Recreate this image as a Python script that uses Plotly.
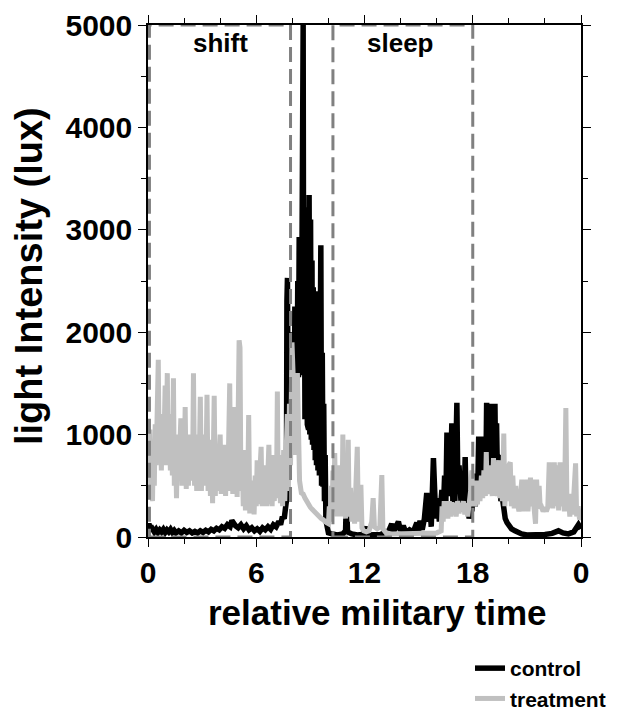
import plotly.graph_objects as go

# ---------------- data ----------------
control_t = [0.00,0.05,0.10,0.15,0.25,0.35,0.45,0.55,0.65,0.75,0.85,0.95,1.05,1.15,1.25,1.35,1.45,1.55,1.70,1.85,
             2.00,2.15,2.30,2.45,2.60,2.75,2.90,3.05,3.20,3.35,3.50,3.65,3.80,3.95,4.10,4.25,4.40,4.55,4.65,4.75,
             4.85,5.00,5.15,5.30,5.45,5.60,5.75,5.90,6.05,6.20,6.35,6.50,6.65,6.80,6.95,7.10,7.25,7.35,7.45,7.55,
             7.62,7.67,7.70,7.73,7.76,7.80,7.84,7.88,7.92,7.97,8.02,8.07,8.11,8.14,8.18,8.22,8.26,8.30,8.34,8.38,
             8.42,8.46,8.50,8.54,8.57,8.60,8.63,8.67,8.70,8.74,8.77,8.79,8.83,8.87,8.90,8.93,8.97,9.01,9.05,9.09,
             9.12,9.16,9.20,9.24,9.27,9.31,9.34,9.38,9.42,9.46,9.50,9.54,9.58,9.62,9.66,9.70,9.74,9.78,9.82,9.86,
             9.92,10.00,10.20,10.50,10.80,10.95,11.00,11.06,11.30,11.60,11.90,12.08,12.15,12.50,12.90,13.20,13.35,13.51,13.60,13.75,
             13.88,14.00,14.15,14.30,14.50,14.70,14.90,15.00,15.08,15.20,15.32,15.45,15.52,15.62,15.70,15.82,15.88,15.95,16.05,16.15,
             16.29,16.36,16.44,16.50,16.57,16.63,16.70,16.75,16.84,16.90,16.96,17.00,17.06,17.12,17.18,17.24,17.31,17.38,17.46,17.52,
             17.58,17.64,17.72,17.80,17.88,17.95,18.02,18.08,18.14,18.21,18.27,18.33,18.39,18.45,18.51,18.57,18.62,18.68,18.72,18.77,
             18.81,18.86,18.90,18.95,19.00,19.05,19.10,19.15,19.19,19.23,19.28,19.32,19.38,19.45,19.51,19.56,19.63,19.70,19.80,19.90,
             19.97,20.15,20.34,20.50,20.71,21.00,21.50,22.00,22.40,22.75,23.00,23.30,23.60,23.86,24.00]
control_lux = [90,130,100,60,80,50,75,45,70,50,75,45,70,50,75,45,65,40,60,40,
               65,45,60,40,55,40,60,45,65,50,75,60,85,70,100,85,120,100,160,130,
               110,90,120,80,110,70,90,60,80,55,90,70,100,75,120,100,150,120,200,180,
               300,350,2300,2530,1400,2000,1300,1700,1250,1500,1200,2000,1100,2250,1150,2000,1200,2500,1560,2930,
               1600,2800,1580,3600,1600,5000,1650,2800,1150,2900,1200,3220,1100,3000,1050,3340,1000,3100,950,2700,
               900,2440,850,2300,750,2200,700,2290,650,2400,600,2600,2850,500,1800,490,1300,350,800,165,
               80,40,30,20,30,60,390,50,30,20,25,100,20,20,25,50,60,130,50,100,
               150,60,110,40,70,50,140,60,160,70,180,430,150,320,100,770,200,180,380,150,
               460,200,600,250,1020,400,650,460,1110,300,500,280,950,1310,450,700,460,250,550,300,
               780,250,340,180,300,250,450,600,300,620,400,980,500,950,600,980,550,980,500,1310,
               700,1250,600,1300,700,1250,650,1280,600,1300,500,1110,450,800,700,350,400,260,180,140,
               120,80,60,40,30,20,20,25,35,60,40,30,50,120,80]

treatment_t = [0.00,0.05,0.10,0.15,0.20,0.25,0.30,0.35,0.40,0.45,0.50,0.57,0.62,0.68,0.74,0.80,0.86,0.95,1.00,1.07,
               1.12,1.18,1.24,1.30,1.35,1.41,1.46,1.52,1.58,1.64,1.70,1.76,1.82,1.88,1.94,2.00,2.06,2.12,2.18,2.24,
               2.30,2.36,2.42,2.47,2.52,2.58,2.64,2.70,2.76,2.82,2.90,2.96,3.02,3.08,3.14,3.20,3.27,3.33,3.40,3.46,
               3.52,3.58,3.67,3.73,3.80,3.86,3.93,4.00,4.06,4.12,4.18,4.24,4.30,4.36,4.42,4.53,4.58,4.64,4.70,4.75,
               4.81,4.88,4.94,5.05,5.10,5.15,5.22,5.28,5.34,5.40,5.46,5.52,5.58,5.64,5.70,5.76,5.82,5.88,5.94,6.00,
               6.05,6.11,6.18,6.27,6.33,6.40,6.46,6.52,6.58,6.64,6.70,6.76,6.82,6.88,6.94,7.00,7.06,7.12,7.17,7.22,
               7.28,7.34,7.40,7.46,7.52,7.58,7.64,7.72,7.78,7.84,7.90,7.98,8.04,8.10,8.16,8.22,8.28,8.34,8.40,8.50,
               8.60,8.70,8.80,8.90,9.00,9.10,9.20,9.30,9.40,9.50,9.60,9.70,9.80,9.90,10.00,10.05,10.10,10.15,10.20,10.25,
               10.30,10.35,10.40,10.45,10.50,10.55,10.60,10.70,10.75,10.80,10.85,10.90,10.95,11.00,11.05,11.10,11.15,11.22,11.30,11.38,
               11.45,11.52,11.60,11.66,11.72,11.80,11.86,11.95,12.10,12.25,12.40,12.48,12.55,12.70,12.85,12.96,13.02,13.20,13.50,14.00,
               14.50,15.00,15.50,16.00,16.25,16.30,16.36,16.42,16.48,16.55,16.62,16.70,16.78,16.85,16.92,17.00,17.08,17.16,17.24,17.32,
               17.40,17.48,17.56,17.64,17.72,17.80,17.88,17.95,18.02,18.08,18.14,18.20,18.26,18.34,18.40,18.48,18.55,18.62,18.70,18.75,
               18.80,18.88,18.95,19.02,19.08,19.15,19.22,19.30,19.36,19.44,19.50,19.58,19.64,19.72,19.78,19.85,19.92,20.00,20.08,20.14,
               20.22,20.30,20.38,20.44,20.50,20.56,20.64,20.72,20.78,20.86,20.94,21.00,21.06,21.14,21.20,21.26,21.34,21.40,21.48,21.54,
               21.60,21.68,21.74,21.82,21.90,22.00,22.08,22.16,22.24,22.30,22.38,22.44,22.52,22.60,22.68,22.76,22.84,22.92,23.00,23.08,
               23.16,23.22,23.30,23.38,23.46,23.54,23.62,23.70,23.76,23.84,23.92,24.00]
treatment_lux = [650,900,1050,450,800,350,950,500,1100,700,1600,1730,720,1100,650,1200,700,1480,750,1600,
                 700,1200,650,1100,600,1550,500,950,380,1000,550,900,1160,500,1000,600,1270,470,900,500,
                 1000,550,850,600,1600,500,1000,450,950,500,1370,450,1000,550,900,500,1390,450,950,400,
                 850,330,1380,400,900,450,800,1000,420,850,500,900,400,800,450,1500,500,900,420,1270,
                 450,900,390,1920,1850,450,800,300,850,260,700,350,1190,230,550,250,500,220,600,300,
                 750,320,650,880,300,700,330,650,300,700,900,320,750,300,800,350,700,400,1420,380,
                 800,330,750,300,850,350,900,1200,450,1300,700,1900,1600,800,1400,900,1600,700,550,430,
                 420,380,340,300,290,270,250,230,220,200,180,170,150,140,130,300,150,500,200,650,
                 250,820,300,600,200,700,250,450,200,1000,250,500,180,650,300,950,200,480,150,400,
                 130,500,880,150,300,510,90,60,50,60,150,380,100,80,100,605,80,40,30,30,
                 35,30,30,40,60,300,150,350,200,330,180,350,200,340,220,330,200,350,230,330,
                 250,350,220,330,200,300,450,650,300,550,300,500,320,550,350,600,380,650,400,830,
                 420,650,450,700,400,770,450,650,400,750,380,700,350,1010,300,650,350,700,730,300,
                 600,280,500,300,310,250,450,560,250,500,300,560,250,450,580,300,560,280,130,560,
                 300,500,280,290,250,290,250,290,730,300,700,280,730,300,700,260,730,300,650,250,
                 1260,300,420,200,420,220,420,720,200,300,170,220]

periods = ["shift", "sleep"]
period_start = [0.08, 10.25]
period_end = [7.9, 18.0]
period_label_x = [4.0, 14.0]

x_tickvals = [0, 6, 12, 18, 24]
x_ticktext = ["0", "6", "12", "18", "0"]

# ---------------- figure ----------------
W, H = 625, 713
ML, MR, MT, MB = 148, 44, 25, 176
PW, PH = W - ML - MR, H - MT - MB


def px_x(px):
    return (px - ML) / PW


def px_y(py):
    return (H - MB - py) / PH


FONT = "Liberation Sans, Arial, sans-serif"
fig = go.Figure()
fig.add_trace(go.Scatter(x=control_t, y=control_lux, mode="lines", name="control",
                         line=dict(color="#000000", width=5.5)))
fig.add_trace(go.Scatter(x=treatment_t, y=treatment_lux, mode="lines", name="treatment",
                         line=dict(color="#c0c0c0", width=5)))

for p, s, e, lx in zip(periods, period_start, period_end, period_label_x):
    fig.add_shape(type="rect", x0=s, x1=e, y0=0, y1=5000, xref="x", yref="y",
                  line=dict(color="#808080", width=3, dash="15px,7px"), layer="above")
    fig.add_annotation(x=lx, y=px_y(43), xref="x", yref="paper", text=p, showarrow=False,
                       font=dict(family=FONT, size=26, color="#000", weight="bold"),
                       yanchor="middle")

axis_common = dict(showline=True, linecolor="#000", linewidth=1.5, mirror="ticks",
                   ticks="outside", ticklen=8, tickwidth=1.2, tickcolor="#000",
                   showgrid=False, zeroline=False, automargin=False,
                   tickfont=dict(family=FONT, size=30, color="#000", weight="bold"))

fig.update_xaxes(range=[0, 24], tickvals=x_tickvals, ticktext=x_ticktext,
                 minor=dict(dtick=2, ticks="outside", ticklen=5, tickcolor="#000", tickwidth=1.2),
                 **axis_common)
fig.update_yaxes(range=[0, 5000], dtick=1000,
                 minor=dict(dtick=500, ticks="outside", ticklen=5, tickcolor="#000", tickwidth=1.2),
                 **axis_common)

fig.add_annotation(x=px_x(377), y=px_y(612), xref="paper", yref="paper",
                   text="relative military time", showarrow=False,
                   font=dict(family=FONT, size=35, color="#000", weight="bold"),
                   xanchor="center", yanchor="middle")
fig.add_annotation(x=px_x(29), y=px_y(276), xref="paper", yref="paper",
                   text="light Intensity (lux)", showarrow=False, textangle=-90,
                   font=dict(family=FONT, size=38, color="#000", weight="bold"),
                   xanchor="center", yanchor="middle")

fig.update_layout(
    width=W, height=H,
    margin=dict(l=ML, r=MR, t=MT, b=MB, autoexpand=False),
    plot_bgcolor="#ffffff", paper_bgcolor="#ffffff",
    showlegend=True,
    legend=dict(x=470 / W, y=1 - 648 / H, xref="container", yref="container",
                xanchor="left", yanchor="top",
                font=dict(family=FONT, size=21, color="#000", weight="bold"),
                bgcolor="rgba(0,0,0,0)", tracegroupgap=0),
)

fig.write_html("out.html")
